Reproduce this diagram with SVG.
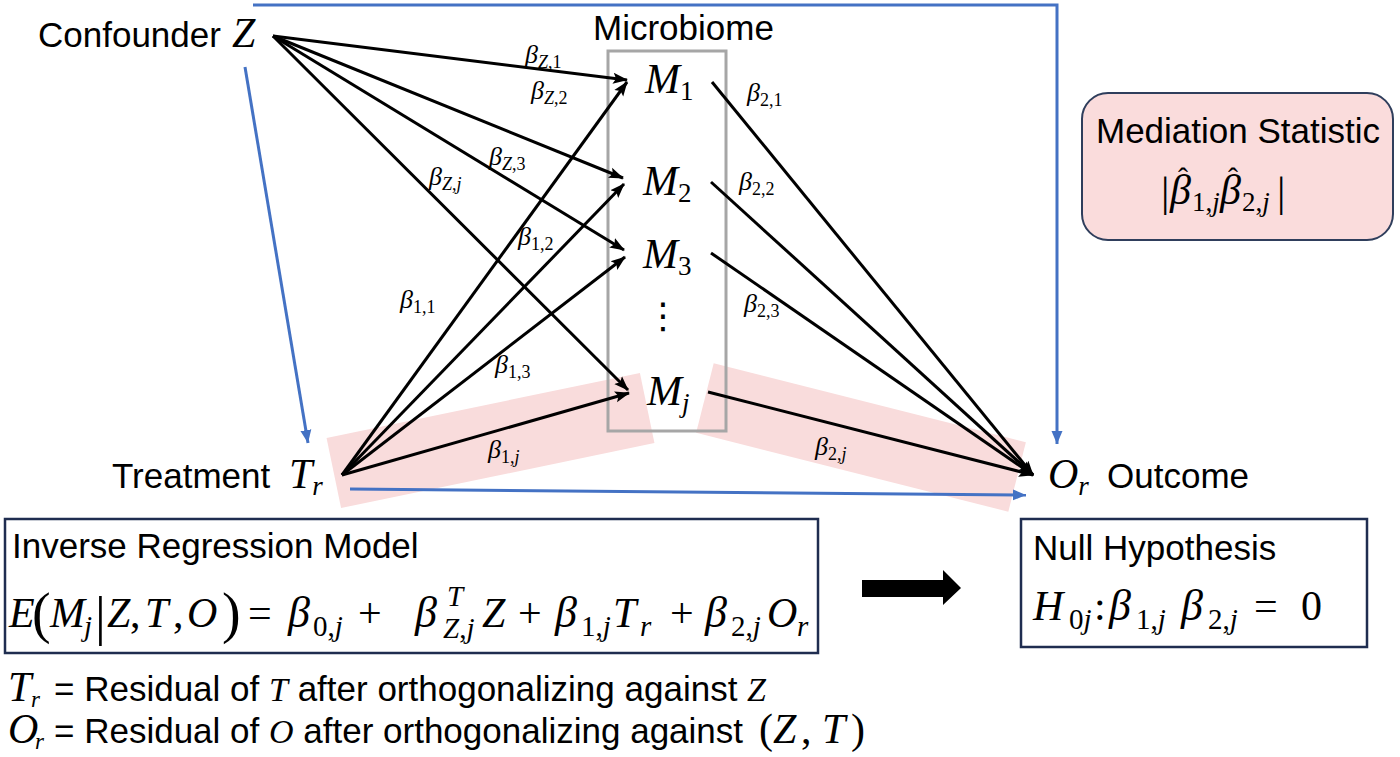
<svg xmlns="http://www.w3.org/2000/svg" width="1400" height="757" viewBox="0 0 1400 757">
<style>
.h{font-family:"Liberation Sans",Arial,sans-serif;font-size:35px;fill:#000}
.mi{font-family:"Liberation Serif","Times New Roman",serif;font-style:italic}
.up{font-family:"Liberation Serif","Times New Roman",serif;font-style:normal}
.lb{font-family:"Liberation Serif","Times New Roman",serif;font-size:26px;fill:#000}
.lb .s{font-size:18px}
.blk{stroke:#000;stroke-width:3;fill:none}
.blue{stroke:#4472c4;stroke-width:3;fill:none}
.pink{fill:#f9dcdc}
.eq{font-family:"Liberation Serif","Times New Roman",serif;font-size:42px;fill:#000}
.sub{font-size:29px}
.hat{font-family:"Liberation Serif","Times New Roman",serif;font-size:30px;font-style:normal}
</style>
<defs>
<marker id="ab" markerUnits="userSpaceOnUse" markerWidth="16" markerHeight="14" refX="14" refY="7" orient="auto">
<path d="M0,1.5 L15,7 L0,12.5 L3,7 z" fill="#000"/>
</marker>
<marker id="abl" markerUnits="userSpaceOnUse" markerWidth="14" markerHeight="12" refX="13" refY="6" orient="auto">
<path d="M0,0.5 L13,6 L0,11.5 z" fill="#4472c4"/>
</marker>
</defs>
<rect width="1400" height="757" fill="#fff"/>

<g id="highlights">
<rect class="pink" x="-160" y="-35.8" width="320" height="71.6" transform="translate(490.5,440.5) rotate(-11.7)"/>
<rect class="pink" x="-161" y="-35.8" width="322" height="71.6" transform="translate(861,437.5) rotate(14.2)"/>
</g>

<g id="microbiome">
<rect x="608" y="51" width="118" height="380" fill="none" stroke="#a6a6a6" stroke-width="3"/>
<text class="h" x="593" y="40">Microbiome</text>
</g>

<g id="connectors">
<path class="blue" d="M253,5 H1057 V444" marker-end="url(#abl)"/>
<line class="blue" x1="245" y1="67" x2="308" y2="443" marker-end="url(#abl)"/>
<line class="blue" x1="350" y1="489" x2="1026" y2="495" marker-end="url(#abl)"/>
<line class="blk" x1="273" y1="36" x2="627" y2="80" marker-end="url(#ab)"/>
<line class="blk" x1="273" y1="36" x2="623" y2="178" marker-end="url(#ab)"/>
<line class="blk" x1="273" y1="36" x2="624" y2="250" marker-end="url(#ab)"/>
<line class="blk" x1="273" y1="36" x2="628" y2="390" marker-end="url(#ab)"/>
<line class="blk" x1="342" y1="475" x2="627" y2="82" marker-end="url(#ab)"/>
<line class="blk" x1="342" y1="475" x2="624" y2="184" marker-end="url(#ab)"/>
<line class="blk" x1="342" y1="475" x2="625" y2="257" marker-end="url(#ab)"/>
<line class="blk" x1="342" y1="475" x2="629" y2="393" marker-end="url(#ab)"/>
<line class="blk" x1="712" y1="82" x2="1033" y2="475" marker-end="url(#ab)"/>
<line class="blk" x1="711" y1="182" x2="1033" y2="475" marker-end="url(#ab)"/>
<line class="blk" x1="711" y1="253" x2="1033" y2="475" marker-end="url(#ab)"/>
<line class="blk" x1="708" y1="392" x2="1033" y2="475" marker-end="url(#ab)"/>
</g>

<g id="edge-labels">
<text class="lb" x="525" y="63"><tspan class="mi">β</tspan><tspan class="s" dy="5"><tspan class="mi">Z</tspan>,1</tspan></text>
<text class="lb" x="531" y="99"><tspan class="mi">β</tspan><tspan class="s" dy="5"><tspan class="mi">Z</tspan>,2</tspan></text>
<text class="lb" x="489" y="165"><tspan class="mi">β</tspan><tspan class="s" dy="5"><tspan class="mi">Z</tspan>,3</tspan></text>
<text class="lb" x="429" y="185"><tspan class="mi">β</tspan><tspan class="s" dy="5"><tspan class="mi">Z</tspan>,<tspan class="mi">j</tspan></tspan></text>
<text class="lb" x="518" y="245"><tspan class="mi">β</tspan><tspan class="s" dy="5">1,2</tspan></text>
<text class="lb" x="400" y="308"><tspan class="mi">β</tspan><tspan class="s" dy="5">1,1</tspan></text>
<text class="lb" x="495" y="373"><tspan class="mi">β</tspan><tspan class="s" dy="5">1,3</tspan></text>
<text class="lb" x="488" y="458"><tspan class="mi">β</tspan><tspan class="s" dy="5">1,<tspan class="mi">j</tspan></tspan></text>
<text class="lb" x="747" y="101"><tspan class="mi">β</tspan><tspan class="s" dy="5">2,1</tspan></text>
<text class="lb" x="739" y="190"><tspan class="mi">β</tspan><tspan class="s" dy="5">2,2</tspan></text>
<text class="lb" x="744" y="312"><tspan class="mi">β</tspan><tspan class="s" dy="5">2,3</tspan></text>
<text class="lb" x="815" y="455"><tspan class="mi">β</tspan><tspan class="s" dy="5">2,<tspan class="mi">j</tspan></tspan></text>
</g>

<g id="confounder">
<text class="h" x="38" y="47">Confounder</text>
<text class="eq mi" x="232" y="47" font-size="36">Z</text>
</g>

<g id="m1"><text class="eq" x="645" y="93" font-size="38"><tspan class="mi">M</tspan><tspan class="up" font-size="27" dy="7">1</tspan></text></g>
<g id="m2"><text class="eq" x="643" y="195" font-size="38"><tspan class="mi">M</tspan><tspan class="up" font-size="27" dy="7">2</tspan></text></g>
<g id="m3"><text class="eq" x="643" y="268" font-size="38"><tspan class="mi">M</tspan><tspan class="up" font-size="27" dy="7">3</tspan></text></g>
<g id="dots"><text x="663" y="328" text-anchor="middle" font-family="DejaVu Sans,sans-serif" font-size="36">⋮</text></g>
<g id="mj"><text class="eq" x="647" y="405" font-size="38"><tspan class="mi">M</tspan><tspan class="mi" font-size="27" dy="7">j</tspan></text></g>

<g id="treatment">
<text class="h" x="112" y="488">Treatment</text>
<text class="eq" x="289" y="488" font-size="38"><tspan class="mi">T</tspan><tspan class="mi" font-size="27" dy="7">r</tspan></text>
</g>

<g id="outcome">
<text class="eq" x="1048" y="488" font-size="38"><tspan class="mi">O</tspan><tspan class="mi" font-size="27" dy="7">r</tspan></text>
<text class="h" x="1107" y="488">Outcome</text>
</g>

<g id="mediation-statistic">
<rect x="1082" y="93" width="311" height="147" rx="26" fill="#fadcdc" stroke="#2f3e5c" stroke-width="2"/>
<text class="h" x="1238" y="143" text-anchor="middle">Mediation Statistic</text>
<text class="eq" font-size="40"><tspan class="up" x="1161" y="206">|</tspan><tspan class="mi" x="1170" y="204">β</tspan><tspan class="hat" x="1178" y="188">ˆ</tspan><tspan font-size="27" x="1192" y="211">1,<tspan class="mi">j</tspan></tspan><tspan class="mi" x="1220" y="204">β</tspan><tspan class="hat" x="1228" y="188">ˆ</tspan><tspan font-size="27" x="1242" y="211">2,<tspan class="mi">j</tspan></tspan><tspan class="up" x="1277" y="206">|</tspan></text>
</g>

<g id="inverse-regression">
<rect x="5" y="519" width="813" height="134" fill="none" stroke="#1f2d50" stroke-width="2.5"/>
<text class="h" x="12" y="558">Inverse Regression Model</text>
<g class="eq">
<text class="mi" x="9" y="627">E</text>
<text class="up" x="32" y="632" font-size="56">(</text>
<text class="mi" x="50" y="627">M</text>
<text class="mi sub" x="84" y="636">j</text>
<text class="up" x="95" y="634" font-size="54">|</text>
<text class="mi" x="107" y="627">Z</text>
<text class="up" x="130" y="627">,</text>
<text class="mi" x="145" y="627">T</text>
<text class="up" x="173" y="627">,</text>
<text class="mi" x="187" y="627">O</text>
<text class="up" x="222" y="632" font-size="56">)</text>
<text class="up" x="248" y="627">=</text>
<text class="mi" x="288" y="627" font-size="44">β</text>
<text class="sub" x="313" y="636"><tspan class="up">0,</tspan><tspan class="mi">j</tspan></text>
<text class="up" x="358" y="627">+</text>
<text class="mi" x="415" y="627" font-size="44">β</text>
<text class="mi sub" x="447" y="606">T</text>
<text class="sub" x="443" y="638"><tspan class="mi">Z</tspan><tspan class="up">,</tspan><tspan class="mi">j</tspan></text>
<text class="mi" x="482" y="627">Z</text>
<text class="up" x="518" y="627">+</text>
<text class="mi" x="555" y="627" font-size="44">β</text>
<text class="sub" x="581" y="636"><tspan class="up">1,</tspan><tspan class="mi">j</tspan></text>
<text class="mi" x="613" y="627">T</text>
<text class="mi sub" x="640" y="636">r</text>
<text class="up" x="670" y="627">+</text>
<text class="mi" x="705" y="627" font-size="44">β</text>
<text class="sub" x="731" y="636"><tspan class="up">2,</tspan><tspan class="mi">j</tspan></text>
<text class="mi" x="767" y="627">O</text>
<text class="mi sub" x="797" y="636">r</text>
</g>
</g>

<g id="implies-arrow">
<polygon points="862,580 943,580 943,570 961,588 943,605 943,597 862,597" fill="#000"/>
</g>

<g id="null-hypothesis">
<rect x="1021" y="519" width="346" height="128" fill="none" stroke="#1f2d50" stroke-width="2.5"/>
<text class="h" x="1033" y="560">Null Hypothesis</text>
<g class="eq">
<text class="mi" x="1033" y="620">H</text>
<text class="sub" x="1069" y="629"><tspan class="up">0</tspan><tspan class="mi">j</tspan></text>
<text class="up" x="1094" y="620">:</text>
<text class="mi" x="1109" y="620" font-size="44">β</text>
<text class="sub" x="1136" y="629"><tspan class="up">1,</tspan><tspan class="mi">j</tspan></text>
<text class="mi" x="1181" y="620" font-size="44">β</text>
<text class="sub" x="1208" y="629"><tspan class="up">2,</tspan><tspan class="mi">j</tspan></text>
<text class="up" x="1254" y="620">=</text>
<text class="up" x="1301" y="620">0</text>
</g>
</g>

<g id="definitions">
<text class="eq" font-size="34"><tspan class="mi" x="8" y="701">T</tspan><tspan class="mi" font-size="23" x="31" y="707">r</tspan></text>
<text class="h" x="54" y="701" font-size="31">= Residual of <tspan class="mi" font-size="34">T</tspan> after orthogonalizing against <tspan class="mi" font-size="34">Z</tspan></text>
<text class="eq" font-size="34"><tspan class="mi" x="8" y="743">O</tspan><tspan class="mi" font-size="23" x="35" y="749">r</tspan></text>
<text class="h" x="54" y="743" font-size="31">= Residual of <tspan class="mi" font-size="34">O</tspan> after orthogonalizing against</text>
<text class="eq" font-size="34"><tspan class="up" x="759" y="743">(</tspan><tspan class="mi" x="773" y="743">Z</tspan><tspan class="up" x="801" y="743">,</tspan><tspan class="mi" x="822" y="743">T</tspan><tspan class="up" x="851" y="743">)</tspan></text>
</g>
</svg>
